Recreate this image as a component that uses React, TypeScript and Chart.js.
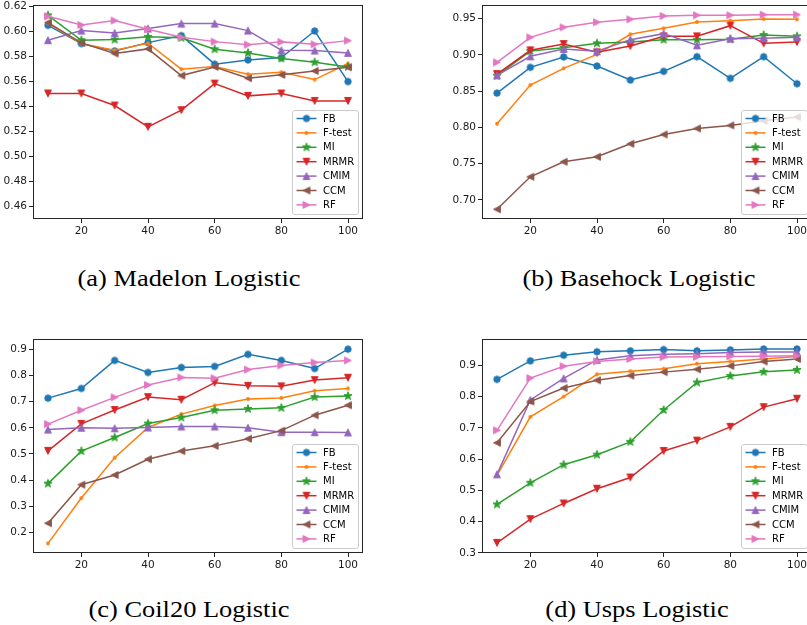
import React, { useEffect, useRef } from 'react';
import { Chart, registerables } from 'chart.js';

Chart.register(...registerables);

const xValues = [10, 20, 30, 40, 50, 60, 70, 80, 90, 100];
const xTicks = [20, 40, 60, 80, 100];
const methods = ['FB', 'F-test', 'MI', 'MRMR', 'CMIM', 'CCM', 'RF'];

// (a) Madelon Logistic
const madelonFB = [0.6048, 0.5902, 0.5844, 0.591, 0.5966, 0.5738, 0.5772, 0.5791, 0.6003, 0.5599];
const madelonFtest = [0.6065, 0.5902, 0.585, 0.5905, 0.5698, 0.5719, 0.5658, 0.5674, 0.5615, 0.5743];
const madelonMI = [0.6128, 0.5929, 0.5934, 0.5956, 0.5948, 0.5857, 0.5828, 0.5783, 0.5753, 0.5716];
const madelonMRMR = [0.5504, 0.5504, 0.5408, 0.5238, 0.5371, 0.5583, 0.5485, 0.5504, 0.5445, 0.5445];
const madelonCMIM = [0.5929, 0.6006, 0.5987, 0.6022, 0.6062, 0.6062, 0.6006, 0.5849, 0.5847, 0.5828];
const madelonCCM = [0.607, 0.5908, 0.5823, 0.586, 0.5647, 0.5716, 0.5626, 0.5653, 0.5684, 0.5714];
const madelonRF = [0.612, 0.6051, 0.6086, 0.6017, 0.5953, 0.5918, 0.5894, 0.5916, 0.5897, 0.5926];
const madelonYTicks = [0.46, 0.48, 0.5, 0.52, 0.54, 0.56, 0.58, 0.6, 0.62];

// (b) Basehock Logistic
const basehockFB = [0.8473, 0.8828, 0.8971, 0.8846, 0.8653, 0.8773, 0.8975, 0.8676, 0.8975, 0.8602];
const basehockFtest = [0.805, 0.8584, 0.8814, 0.9007, 0.9284, 0.9366, 0.9454, 0.9472, 0.9495, 0.949];
const basehockMI = [0.8713, 0.9053, 0.91, 0.9159, 0.9178, 0.921, 0.921, 0.9215, 0.9274, 0.9256];
const basehockMRMR = [0.8736, 0.9063, 0.915, 0.9035, 0.9122, 0.9256, 0.9256, 0.9403, 0.9159, 0.9178];
const basehockCMIM = [0.8717, 0.898, 0.9081, 0.9049, 0.921, 0.9293, 0.9132, 0.9224, 0.9228, 0.9242];
const basehockCCM = [0.687, 0.7318, 0.7525, 0.7594, 0.7774, 0.7902, 0.7985, 0.8027, 0.8091, 0.8142];
const basehockRF = [0.8897, 0.9242, 0.938, 0.945, 0.949, 0.9537, 0.9546, 0.9546, 0.9555, 0.9555];
const basehockYTicks = [0.7, 0.75, 0.8, 0.85, 0.9, 0.95];

// (c) Coil20 Logistic
const coilFB = [0.713, 0.75, 0.857, 0.811, 0.83, 0.834, 0.88, 0.857, 0.826, 0.9];
const coilFtest = [0.159, 0.332, 0.486, 0.601, 0.652, 0.685, 0.71, 0.714, 0.741, 0.75];
const coilMI = [0.387, 0.511, 0.563, 0.616, 0.639, 0.667, 0.672, 0.676, 0.717, 0.721];
const coilMRMR = [0.512, 0.615, 0.668, 0.717, 0.707, 0.772, 0.76, 0.758, 0.782, 0.791];
const coilCMIM = [0.593, 0.6, 0.598, 0.601, 0.605, 0.605, 0.6, 0.583, 0.583, 0.582];
const coilCCM = [0.236, 0.383, 0.42, 0.48, 0.511, 0.531, 0.558, 0.589, 0.648, 0.686];
const coilRF = [0.614, 0.667, 0.716, 0.763, 0.792, 0.789, 0.822, 0.838, 0.849, 0.857];
const coilYTicks = [0.2, 0.3, 0.4, 0.5, 0.6, 0.7, 0.8, 0.9];

// (d) Usps Logistic
const uspsFB = [0.855, 0.914, 0.932, 0.943, 0.946, 0.95, 0.946, 0.949, 0.952, 0.952];
const uspsFtest = [0.548, 0.735, 0.8, 0.871, 0.881, 0.889, 0.905, 0.912, 0.92, 0.928];
const uspsMI = [0.455, 0.524, 0.582, 0.614, 0.655, 0.757, 0.845, 0.866, 0.879, 0.885];
const uspsMRMR = [0.332, 0.408, 0.458, 0.505, 0.541, 0.626, 0.659, 0.703, 0.766, 0.793];
const uspsCMIM = [0.551, 0.789, 0.858, 0.917, 0.93, 0.935, 0.937, 0.941, 0.942, 0.942];
const uspsCCM = [0.652, 0.784, 0.827, 0.852, 0.867, 0.878, 0.887, 0.898, 0.912, 0.92];
const uspsRF = [0.692, 0.859, 0.897, 0.912, 0.92, 0.926, 0.927, 0.928, 0.929, 0.93];
const uspsYTicks = [0.3, 0.4, 0.5, 0.6, 0.7, 0.8, 0.9];

const captions = ['(a) Madelon Logistic', '(b) Basehock Logistic', '(c) Coil20 Logistic', '(d) Usps Logistic'];

// styles
const colors = ['#1f77b4', '#ff7f0e', '#2ca02c', '#d62728', '#9467bd', '#8c564b', '#e377c2'];
const markerKinds = ['circle', 'point', 'star', 'triDown', 'triUp', 'triLeft', 'triRight'];
const TICK_FONT = { family: 'DejaVu Sans', size: 10.5 };
const Y_AXIS_W = 40;
const X_AXIS_H = 30;
const PAD_TOP = 8;
const PAD_RIGHT = 12;

function makeMarker(kind: string, color: string): HTMLCanvasElement {
  const s = 14;
  const c = document.createElement('canvas');
  c.width = s;
  c.height = s;
  const g = c.getContext('2d')!;
  g.fillStyle = color;
  g.strokeStyle = color;
  g.lineWidth = 1;
  g.lineJoin = 'miter';
  const m = s / 2;
  const r = 3.4;
  g.beginPath();
  if (kind === 'circle') {
    g.arc(m, m, 3.2, 0, Math.PI * 2);
  } else if (kind === 'point') {
    g.arc(m, m, 1.9, 0, Math.PI * 2);
  } else if (kind === 'star') {
    for (let i = 0; i < 10; i++) {
      const a = -Math.PI / 2 + (i * Math.PI) / 5;
      const rad = i % 2 === 0 ? 4.3 : 1.7;
      const px = m + rad * Math.cos(a);
      const py = m + rad * Math.sin(a);
      if (i === 0) g.moveTo(px, py);
      else g.lineTo(px, py);
    }
  } else if (kind === 'triDown') {
    g.moveTo(m, m + r);
    g.lineTo(m - r, m - r);
    g.lineTo(m + r, m - r);
  } else if (kind === 'triUp') {
    g.moveTo(m, m - r);
    g.lineTo(m - r, m + r);
    g.lineTo(m + r, m + r);
  } else if (kind === 'triLeft') {
    g.moveTo(m - r, m);
    g.lineTo(m + r, m - r);
    g.lineTo(m + r, m + r);
  } else {
    g.moveTo(m + r, m);
    g.lineTo(m - r, m - r);
    g.lineTo(m - r, m + r);
  }
  g.closePath();
  g.fill();
  if (kind !== 'point') g.stroke();
  return c;
}

const framePlugin = {
  id: 'mplFrameLegend',
  afterDraw(chart: any) {
    const { ctx, chartArea: ca } = chart;
    const markers: HTMLCanvasElement[] = chart.options.plugins.mplFrameLegend.markers;
    ctx.save();
    // axes frame
    ctx.strokeStyle = '#262626';
    ctx.lineWidth = 1;
    ctx.strokeRect(Math.round(ca.left) + 0.5, Math.round(ca.top) + 0.5, Math.round(ca.right - ca.left) - 1, Math.round(ca.bottom - ca.top) - 1);
    // legend
    const w = 66;
    const h = 104;
    const bx = Math.round(ca.right - 5 - w) + 0.5;
    const by = Math.round(ca.bottom - 5 - h) + 0.5;
    ctx.beginPath();
    const rr = 2.5;
    ctx.moveTo(bx + rr, by);
    ctx.lineTo(bx + w - rr, by);
    ctx.quadraticCurveTo(bx + w, by, bx + w, by + rr);
    ctx.lineTo(bx + w, by + h - rr);
    ctx.quadraticCurveTo(bx + w, by + h, bx + w - rr, by + h);
    ctx.lineTo(bx + rr, by + h);
    ctx.quadraticCurveTo(bx, by + h, bx, by + h - rr);
    ctx.lineTo(bx, by + rr);
    ctx.quadraticCurveTo(bx, by, bx + rr, by);
    ctx.closePath();
    ctx.fillStyle = 'rgba(255,255,255,0.8)';
    ctx.fill();
    ctx.strokeStyle = '#cccccc';
    ctx.stroke();
    ctx.font = '10px "DejaVu Sans"';
    ctx.textBaseline = 'middle';
    ctx.textAlign = 'left';
    methods.forEach((name, i) => {
      const y = by + 8 + i * 14.4;
      ctx.strokeStyle = colors[i];
      ctx.lineWidth = 1.5;
      ctx.beginPath();
      ctx.moveTo(bx + 4, y);
      ctx.lineTo(bx + 24, y);
      ctx.stroke();
      const mk = markers[i];
      ctx.drawImage(mk, bx + 14 - mk.width / 2, y - mk.height / 2);
      ctx.fillStyle = '#000';
      ctx.fillText(name, bx + 30.5, y + 0.5);
    });
    ctx.restore();
  },
};

type PanelCfg = {
  series: number[][];
  yMin: number;
  yMax: number;
  yTicks: number[];
  decimals: number;
  plotLeft: number;
  plotTop: number;
  plotW: number;
  plotH: number;
};

const panels: PanelCfg[] = [
  { series: [madelonFB, madelonFtest, madelonMI, madelonMRMR, madelonCMIM, madelonCCM, madelonRF], yMin: 0.4502, yMax: 0.6208, yTicks: madelonYTicks, decimals: 2, plotLeft: 33, plotTop: 5, plotW: 330, plotH: 214 },
  { series: [basehockFB, basehockFtest, basehockMI, basehockMRMR, basehockCMIM, basehockCCM, basehockRF], yMin: 0.6736, yMax: 0.9684, yTicks: basehockYTicks, decimals: 2, plotLeft: 482, plotTop: 5, plotW: 330, plotH: 214 },
  { series: [coilFB, coilFtest, coilMI, coilMRMR, coilCMIM, coilCCM, coilRF], yMin: 0.1223, yMax: 0.9375, yTicks: coilYTicks, decimals: 1, plotLeft: 33, plotTop: 339, plotW: 330, plotH: 214 },
  { series: [uspsFB, uspsFtest, uspsMI, uspsMRMR, uspsCMIM, uspsCCM, uspsRF], yMin: 0.2995, yMax: 0.983, yTicks: uspsYTicks, decimals: 1, plotLeft: 482, plotTop: 339, plotW: 330, plotH: 214 },
];

const captionPos = [
  { cx: 189, top: 266 },
  { cx: 639, top: 266 },
  { cx: 189, top: 597 },
  { cx: 637, top: 597 },
];

function Panel({ cfg }: { cfg: PanelCfg }) {
  const ref = useRef<HTMLCanvasElement | null>(null);
  const cw = cfg.plotW + Y_AXIS_W + PAD_RIGHT;
  const chh = cfg.plotH + X_AXIS_H + PAD_TOP;
  useEffect(() => {
    const markers = markerKinds.map((k, i) => makeMarker(k, colors[i]));
    const datasets = cfg.series.map((arr, i) => ({
      label: methods[i],
      data: xValues.map((x, j) => ({ x, y: arr[j] })),
      borderColor: colors[i],
      backgroundColor: colors[i],
      borderWidth: 1.5,
      pointStyle: markers[i],
      pointRadius: 4,
      tension: 0,
      fill: false,
      order: methods.length - 1 - i,
    }));
    const chart = new Chart(ref.current!, {
      type: 'line',
      data: { datasets },
      plugins: [framePlugin],
      options: {
        animation: false,
        responsive: false,
        devicePixelRatio: 1,
        layout: { padding: { top: PAD_TOP, right: PAD_RIGHT, left: 0, bottom: 0 }, autoPadding: false },
        plugins: {
          legend: { display: false },
          tooltip: { enabled: false },
          mplFrameLegend: { markers },
        } as any,
        scales: {
          x: {
            type: 'linear',
            min: 5.5,
            max: 104.5,
            afterBuildTicks: (scale: any) => {
              scale.ticks = xTicks.map((v) => ({ value: v }));
            },
            afterFit: (scale: any) => {
              scale.height = X_AXIS_H;
            },
            grid: { display: true, drawOnChartArea: false, drawTicks: true, tickLength: 4, color: '#262626', lineWidth: 1 },
            border: { display: false },
            ticks: { font: TICK_FONT, color: '#1a1a1a', padding: 2, autoSkip: false, maxRotation: 0, callback: (v: any) => String(v) },
          },
          y: {
            type: 'linear',
            min: cfg.yMin,
            max: cfg.yMax,
            afterBuildTicks: (scale: any) => {
              scale.ticks = cfg.yTicks.map((v) => ({ value: v }));
            },
            afterFit: (scale: any) => {
              scale.width = Y_AXIS_W;
            },
            grid: { display: true, drawOnChartArea: false, drawTicks: true, tickLength: 4, color: '#262626', lineWidth: 1 },
            border: { display: false },
            ticks: { font: TICK_FONT, color: '#1a1a1a', padding: 2, autoSkip: false, callback: (v: any) => Number(v).toFixed(cfg.decimals) },
          },
        },
      } as any,
    });
    return () => chart.destroy();
  }, []);
  return (
    <canvas
      ref={ref}
      width={cw}
      height={chh}
      style={{ position: 'absolute', left: cfg.plotLeft - Y_AXIS_W, top: cfg.plotTop - PAD_TOP, width: cw, height: chh }}
    />
  );
}

export default function App() {
  return (
    <div style={{ position: 'fixed', left: 0, top: 0, width: 807, height: 625, overflow: 'hidden', background: '#fff' }}>
      {panels.map((p, i) => (
        <Panel key={i} cfg={p} />
      ))}
      {captions.map((t, i) => (
        <div
          key={'c' + i}
          style={{
            position: 'absolute',
            left: captionPos[i].cx,
            top: captionPos[i].top,
            transform: 'translateX(-50%) scaleX(1.1)',
            fontFamily: '"Liberation Serif", serif',
            fontSize: 24,
            lineHeight: '24px',
            whiteSpace: 'nowrap',
            color: '#000',
          }}
        >
          {t}
        </div>
      ))}
    </div>
  );
}
